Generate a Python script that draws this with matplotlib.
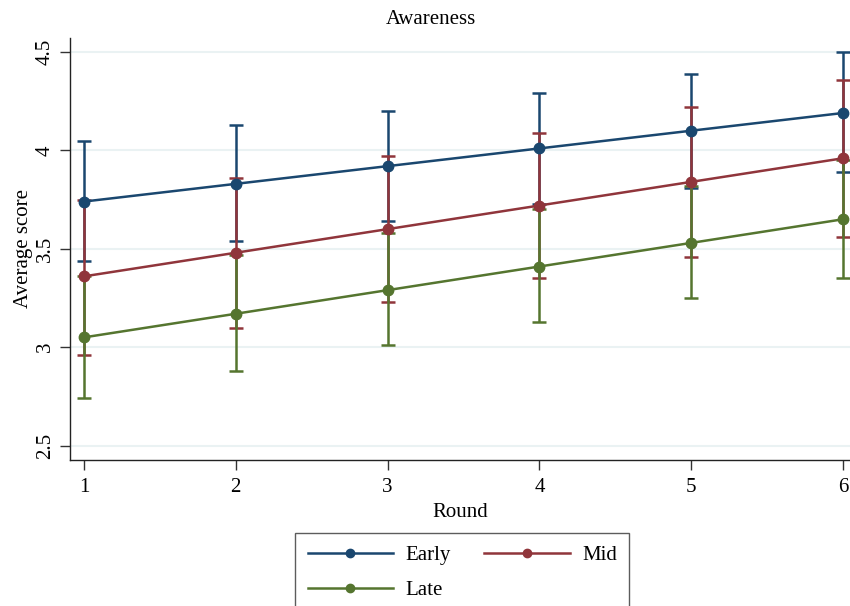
import numpy as np
import matplotlib
matplotlib.use('agg')
import matplotlib.pyplot as plt

# values
rounds = [1, 2, 3, 4, 5, 6]
groups = ["Early", "Mid", "Late"]
early_mean = [3.74, 3.83, 3.92, 4.01, 4.10, 4.19]
early_lo = [3.44, 3.54, 3.64, 3.73, 3.81, 3.89]
early_hi = [4.05, 4.13, 4.20, 4.29, 4.39, 4.50]
mid_mean = [3.36, 3.48, 3.60, 3.72, 3.84, 3.96]
mid_lo = [2.96, 3.10, 3.23, 3.35, 3.46, 3.56]
mid_hi = [3.75, 3.86, 3.97, 4.09, 4.22, 4.36]
late_mean = [3.05, 3.17, 3.29, 3.41, 3.53, 3.65]
late_lo = [2.74, 2.88, 3.01, 3.13, 3.25, 3.35]
late_hi = [3.36, 3.47, 3.58, 3.70, 3.82, 3.95]
yticks = [2.5, 3, 3.5, 4, 4.5]

colors = ["#1a476f", "#90353b", "#55752f"]
series = [(early_mean, early_lo, early_hi),
          (mid_mean, mid_lo, mid_hi),
          (late_mean, late_lo, late_hi)]

plt.rcParams['font.family'] = ['Liberation Serif', 'DejaVu Serif']

fig = plt.figure(figsize=(8.5, 6.06), dpi=100)
ax = fig.add_axes([70 / 850, 1 - 460 / 606, 780 / 850, 422 / 606])

# confidence interval caps first
for (m, lo, hi), c in zip(series, colors):
    m = np.array(m)
    err = [m - np.array(lo), np.array(hi) - m]
    ax.errorbar(rounds, m, yerr=err, fmt='none', ecolor=c, elinewidth=1.8,
                capsize=5, capthick=1.8, zorder=2)

handles = []
for (m, lo, hi), c, name in zip(series, colors, groups):
    h, = ax.plot(rounds, m, color=c, lw=1.8, marker='o', ms=7.5,
                 label=name, zorder=3)
    handles.append(h)

ax.set_xlim(0.908, 6.046)
ax.set_ylim(2.427, 4.571)
ax.set_xticks(rounds)
ax.set_yticks(yticks)
ax.set_yticklabels(["2.5", "3", "3.5", "4", "4.5"], rotation=90, va='center')
ax.tick_params(axis='both', labelsize=15, length=7, width=1, color='#333333')
ax.tick_params(axis='x', pad=6)
ax.tick_params(axis='y', pad=4)

ax.grid(axis='y', color='#eaf2f3', lw=1.5)
ax.set_axisbelow(True)
for s in ['top', 'right']:
    ax.spines[s].set_visible(False)
for s in ['left', 'bottom']:
    ax.spines[s].set_color('#222222')
    ax.spines[s].set_linewidth(1.0)

ax.set_xlabel("Round", fontsize=15, labelpad=4)
ax.set_ylabel("Average score", fontsize=15, labelpad=2)
fig.text(0.507, 1 - 20 / 606, "Awareness", ha='center', va='center', fontsize=15)

# column-major legend: Early / Late in first column, Mid in second
order = [0, 2, 1]
leg = fig.legend(handles=[handles[i] for i in order],
                 labels=[groups[i] for i in order], ncol=2, loc='upper left',
                 bbox_to_anchor=(295 / 850, 1 - 533 / 606), borderaxespad=0,
                 fontsize=15, handlelength=4.1, handletextpad=0.6,
                 columnspacing=1.6, labelspacing=0.75, borderpad=0.6,
                 fancybox=False, frameon=True, markerscale=0.8)
leg.get_frame().set_edgecolor('#333333')
leg.get_frame().set_linewidth(1.0)

fig.savefig("out.png", dpi=100)
